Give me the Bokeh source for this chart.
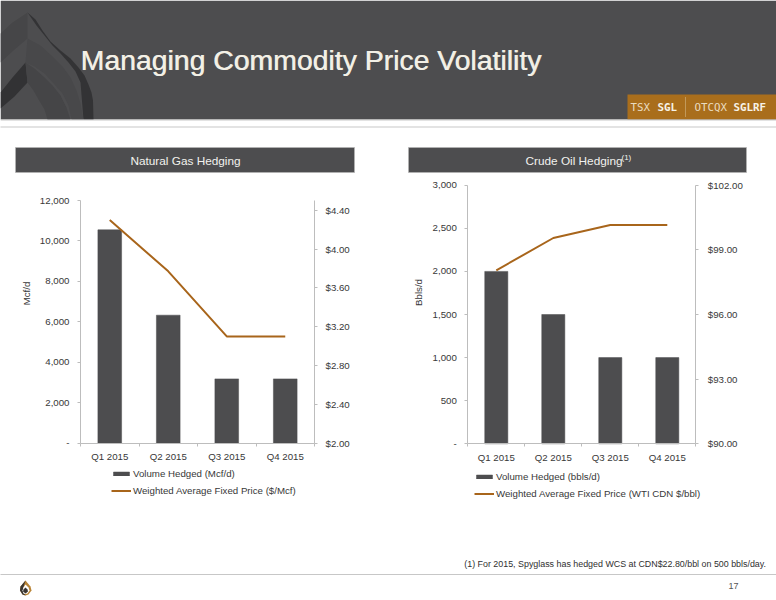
import math

from bokeh.core.properties import value
from bokeh.embed import file_html
from bokeh.models import (ColumnDataSource, FixedTicker, Legend, LegendItem, LinearAxis,
                          NumeralTickFormatter, Range1d)
from bokeh.plotting import figure
from bokeh.resources import INLINE

quarters = ["Q1 2015", "Q2 2015", "Q3 2015", "Q4 2015"]
gas_volume = [10550, 6330, 3180, 3180]
gas_price = [4.30, 3.77, 3.10, 3.10]
oil_volume = [2000, 1500, 1000, 1000]
oil_price = [98.05, 99.55, 100.15, 100.15]

gas_left_ticks = [0, 2000, 4000, 6000, 8000, 10000, 12000]
gas_right_ticks = [2.0, 2.4, 2.8, 3.2, 3.6, 4.0, 4.4]
oil_left_ticks = [0, 500, 1000, 1500, 2000, 2500, 3000]
oil_right_ticks = [90, 93, 96, 99, 102]

W, H = 776, 600
DARK = "#4d4d4f"
BROWN = "#a8651b"
AXIS = "#bdbdbd"
TEXT = "#383838"
FONT = "Liberation Sans"
SIZE = "9.7px"

p = figure(width=W, height=H, x_range=Range1d(0, W), y_range=Range1d(H, 0), x_axis_type=None, y_axis_type=None,
           toolbar_location=None, output_backend="svg", min_border=0,
           background_fill_color="white", border_fill_color="white", outline_line_color=None)
p.grid.visible = False


def label(x, y, s, size, color, align="left", style="normal", font=FONT, angle=0):
    p.text([x], [y], text=[s], text_font=value(font), text_font_size=value(size), text_color=color, text_align=align,
           text_baseline="middle", text_font_style=style, angle=angle)


# slide furniture (page pixels)
p.quad(left=0, right=W, top=0, bottom=119, fill_color=DARK, line_color=None)
p.patch([27, 27, 14, 0, 0, 12], [12, 38, 49, 62, 33, 22], fill_color="#464648", line_color=None)
p.patch([27, 36, 44, 52, 60, 68, 75, 80, 83, 93, 92.5, 91, 88, 84, 78, 70, 60, 50, 42, 35],
        [12, 25, 35, 45, 53, 62, 71, 82, 119, 119, 100, 92, 84, 75, 67, 58, 50, 41, 30, 19], fill_color="#333335", line_color=None)
p.patch([27, 40, 52, 62, 70, 76, 80, 83, 71, 68, 62, 54, 44, 34, 25], [38, 45, 56, 66, 77, 90, 103, 119, 119, 105, 93, 84, 73, 66, 62],
        fill_color="#48484a", line_color=None)
p.patch([25, 27, 14, 0, 0, 12], [62, 82, 96, 108, 92, 77], fill_color="#323234", line_color=None)
p.patch([25, 34, 44, 52, 60, 66, 70, 47, 44, 38, 33, 27], [62, 68, 77, 85, 95, 107, 119, 119, 109, 99, 90, 82], fill_color="#454547", line_color=None)
p.quad(left=627, right=W, top=94, bottom=119, fill_color="#a96e1c", line_color=None)
p.segment(x0=0, y0=119.5, x1=W, y1=119.5, line_color="#c8c8c8", line_width=1)
p.segment(x0=0, y0=126.5, x1=W, y1=126.5, line_color="#8f8f8f", line_width=1, line_dash="1 1")
p.segment(x0=685, y0=97, x1=685, y1=116, line_color="#d9c49a", line_width=1, line_dash="1 1")
label(80.6, 59.5, "Managing Commodity Price Volatility", "28.4px", "#d9d7cd")
label(80, 59, "Managing Commodity Price Volatility", "28.4px", "#f3f0e6")
label(630, 107, "TSX", "10.8px", "#e9dcc0", font="DejaVu Sans Mono")
label(657, 107, "SGL", "10.8px", "#f7f3e8", style="bold", font="DejaVu Sans Mono")
label(694, 107, "OTCQX", "10.8px", "#e9dcc0", font="DejaVu Sans Mono")
label(733, 107, "SGLRF", "10.8px", "#f7f3e8", style="bold", font="DejaVu Sans Mono")
for x0, x1 in ((15, 354), (408, 746)):
    p.quad(left=x0, right=x1, top=147, bottom=172, fill_color=DARK, line_color="#b5b5b5", line_width=0.7)
label(185, 160.5, "Natural Gas Hedging", "11.8px", "#f2f2ee", "center")
label(525, 160.5, "Crude Oil Hedging", "11.8px", "#f2f2ee")
label(621, 157, "(1)", "8px", "#f2f2ee")
label(768, 563, "(1)  For 2015, Spyglass has hedged WCS at CDN$22.80/bbl on 500 bbls/day.", "8.9px", "#2f2f2f", "right")
p.segment(x0=0, y0=574, x1=W, y1=574, line_color="#8f8f8f", line_width=1, line_dash="1 1")
label(733, 585, "17", "9px", "#555555", "center")
p.patch([25, 30, 31, 28, 25, 22, 19.5, 20], [580, 586, 590, 594, 595, 594, 590, 586], fill_color="#b98436", line_color=None)
p.patch([25, 20, 19.5, 22, 25, 23, 22.5], [580, 586, 590, 594, 595, 592, 588], fill_color="#3a3632", line_color=None)
p.patch([25, 28, 29, 27, 25, 23, 22, 23], [584, 587, 590, 593, 593.5, 593, 590, 587], fill_color="#ffffff", line_color=None)
p.patch([25, 27, 27.5, 25, 22.5, 23], [587, 589, 591, 593, 591, 589], fill_color="#3a3632", line_color=None)


def through(v0, px0, v1, px1, start_px, end_px):
    """Range whose values v0, v1 fall on page pixels px0, px1 of a frame running start_px to end_px."""
    k = (v1 - v0) / (px1 - px0)
    return Range1d(v0 + (start_px - px0) * k, v0 + (end_px - px0) * k)


def chart(tag, volume, price, left_ticks, right_ticks, y_max, r_min, r_max, ylabel, vol_label, price_label,
          left, right, top, bottom, label_x, label_y, legend_x, legend_bottom, r_standoff):
    xn, yn, rn = tag + "_x", tag + "_v", tag + "_p"
    p.extra_x_ranges[xn] = through(-0.5, left, 3.5, right, 0, W)
    p.extra_y_ranges[yn] = through(0, bottom, y_max, top, H, 0)
    p.extra_y_ranges[rn] = through(r_min, bottom, r_max, top, H, 0)
    src = ColumnDataSource(dict(x=list(range(len(quarters))), volume=volume, price=price))
    bars = p.vbar(x="x", top="volume", width=0.405, bottom=0, source=src, x_range_name=xn, y_range_name=yn,
                  fill_color=DARK, line_color=DARK, line_width=0.5)
    ln = p.line(x="x", y="price", source=src, x_range_name=xn, y_range_name=rn, line_color=BROWN, line_width=2)

    def style(ax):
        ax.axis_line_color = AXIS
        ax.major_tick_line_color = AXIS
        ax.minor_tick_line_color = AXIS
        ax.major_label_text_font = FONT
        ax.major_label_text_font_size = SIZE
        ax.major_label_text_color = TEXT
        ax.major_tick_in = 0
        ax.minor_tick_in = 0
        ax.minor_tick_out = 0
        ax.major_tick_out = 3

    xa = LinearAxis(x_range_name=xn, fixed_location=bottom, bounds=(-0.5, 3.5),
                    ticker=FixedTicker(ticks=list(range(len(quarters))), minor_ticks=[-0.5, 0.5, 1.5, 2.5, 3.5]),
                    major_label_overrides={i: q for i, q in enumerate(quarters)})
    style(xa)
    xa.major_tick_out = 0
    xa.minor_tick_out = 3
    xa.major_label_standoff = 5
    p.add_layout(xa, "below")

    ya = LinearAxis(y_range_name=yn, fixed_location=left, bounds=(0, y_max), ticker=FixedTicker(ticks=left_ticks),
                    formatter=NumeralTickFormatter(format="0,0"), major_label_overrides={0: "-"})
    style(ya)
    ya.major_label_standoff = 8
    p.add_layout(ya, "left")

    ra = LinearAxis(y_range_name=rn, fixed_location=right, bounds=(r_min, r_max), ticker=FixedTicker(ticks=right_ticks),
                    formatter=NumeralTickFormatter(format="$0.00"))
    style(ra)
    ra.major_label_standoff = r_standoff
    p.add_layout(ra, "right")

    label(label_x, label_y, ylabel, SIZE, TEXT, "center", angle=math.pi / 2)

    leg = Legend(items=[LegendItem(label=vol_label, renderers=[bars]), LegendItem(label=price_label, renderers=[ln])],
                 location=(legend_x, legend_bottom), orientation="vertical", border_line_width=0, border_line_color=None,
                 background_fill_alpha=0, glyph_width=20, glyph_height=5, label_height=13, label_standoff=2, spacing=4,
                 margin=0, padding=0, label_text_font=FONT, label_text_font_size=SIZE, label_text_color=TEXT,
                 label_text_baseline="middle")
    p.add_layout(leg, "center")


chart("gas", gas_volume, gas_price, gas_left_ticks, gas_right_ticks, 12000, 2.0, 4.5, "Mcf/d",
      "Volume Hedged (Mcf/d)", "Weighted Average Fixed Price ($/Mcf)",
      80, 314, 200, 442.7, 26, 293, 111, 103, 8)
chart("oil", oil_volume, oil_price, oil_left_ticks, oil_right_ticks, 3000, 90, 102, "Bbls/d",
      "Volume Hedged (bbls/d)", "Weighted Average Fixed Price (WTI CDN $/bbl)",
      467.3, 695.3, 184.7, 443.3, 418, 292, 474, 100.5, 9)

open("out.html", "w").write(file_html(p, INLINE))
